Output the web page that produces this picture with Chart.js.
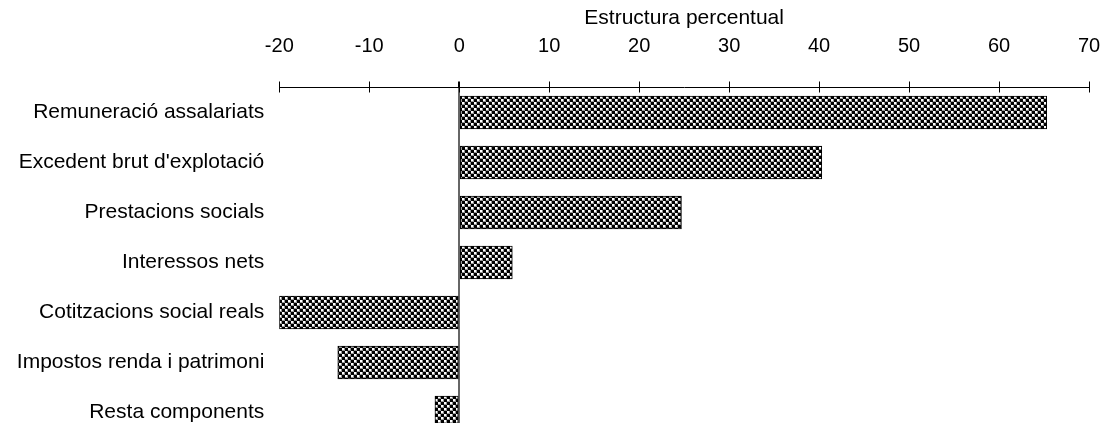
<!DOCTYPE html>
<html>
<head>
<meta charset="utf-8">
<script src="https://cdn.jsdelivr.net/npm/chart.js@4/dist/chart.umd.min.js"></script>
<style>
    html, body { margin: 0; padding: 0; background: #fff; overflow: hidden; }
    #wrap { width: 1103px; height: 460px; }
</style>
</head>
<body>
<div id="wrap"><canvas id="myChart" width="1103" height="460"></canvas></div>
<script>
var categories = ["Remuneració assalariats", "Excedent brut d'explotació", "Prestacions socials", "Interessos nets", "Cotitzacions social reals", "Impostos renda i patrimoni", "Resta components"];
var values = [65.3, 40.3, 24.7, 5.9, -20.0, -13.5, -2.7];
var xTicks = [-20, -10, 0, 10, 20, 30, 40, 50, 60, 70];
var axisTitle = "Estructura percentual";

var fontFam = 'Liberation Sans, Arial, Helvetica, sans-serif';

function getPattern() {
    var c = document.createElement('canvas');
    c.width = 6;
    c.height = 6;
    var g = c.getContext('2d');
    g.fillStyle = '#000';
    g.fillRect(0, 0, 6, 6);
    g.fillStyle = '#999';
    g.fillRect(0, 0, 3, 3);
    g.fillRect(3, 3, 3, 3);
    g.fillStyle = '#fff';
    g.fillRect(0, 0, 2, 2);
    g.fillRect(3, 3, 2, 2);
    return g.createPattern(c, 'repeat');
}

// petites marques sota la linia de l'eix
var ticksBelow = {
    id: 'ticksBelow',
    afterDraw: function (chart) {
        var sx = chart.scales.x;
        var c = chart.ctx;
        var y0 = sx.bottom;
        c.save();
        c.strokeStyle = '#000';
        c.lineWidth = 1;
        c.beginPath();
        xTicks.forEach(function (v) {
            var px = Math.round(sx.getPixelForValue(v)) + 0.5;
            c.moveTo(px, y0);
            c.lineTo(px, y0 + 5);
        });
        c.stroke();
        c.restore();
    }
};

var ctx = document.getElementById('myChart').getContext('2d');
var pat = getPattern();

new Chart(ctx, {
    type: 'bar',
    data: {
        labels: categories,
        datasets: [{
            data: values,
            backgroundColor: pat,
            borderColor: '#000',
            borderWidth: 1,
            borderSkipped: false,
            barThickness: 33
        }]
    },
    options: {
        indexAxis: 'y',
        responsive: false,
        animation: false,
        layout: { padding: { left: 0, right: 14, top: 0, bottom: 22.5 } },
        plugins: {
            legend: { display: false },
            tooltip: { enabled: false }
        },
        scales: {
            x: {
                position: 'top',
                min: -20,
                max: 70,
                afterBuildTicks: function (axis) {
                    axis.ticks = xTicks.map(function (v) { return { value: v }; });
                },
                afterFit: function (axis) {
                    axis.height = 87.5;
                    axis.paddingLeft = 0;
                    axis.paddingRight = 0;
                    axis.paddingTop = 0;
                    axis.paddingBottom = 0;
                },
                border: { display: true, color: '#000', width: 1 },
                grid: {
                    drawOnChartArea: true,
                    drawTicks: true,
                    tickLength: 6,
                    tickColor: '#000',
                    color: function (c) {
                        return c.tick && c.tick.value === 0 ? '#666' : 'rgba(0,0,0,0)';
                    },
                    lineWidth: function (c) {
                        return c.tick && c.tick.value === 0 ? 2 : 1;
                    }
                },
                ticks: {
                    color: '#000',
                    padding: 23,
                    maxRotation: 0,
                    font: { family: fontFam, size: 20 }
                },
                title: {
                    display: true,
                    text: axisTitle,
                    color: '#000',
                    padding: { top: 6, bottom: 0 },
                    font: { family: fontFam, size: 21 }
                }
            },
            y: {
                afterFit: function (axis) {
                    axis.width = 279.3;
                    axis.paddingTop = 0;
                    axis.paddingBottom = 0;
                    axis.paddingLeft = 0;
                    axis.paddingRight = 0;
                },
                border: { display: false },
                grid: { display: false, drawTicks: false },
                ticks: {
                    color: '#000',
                    padding: 15,
                    font: { family: fontFam, size: 21 }
                }
            }
        }
    },
    plugins: [ticksBelow]
});
</script>
</body>
</html>
